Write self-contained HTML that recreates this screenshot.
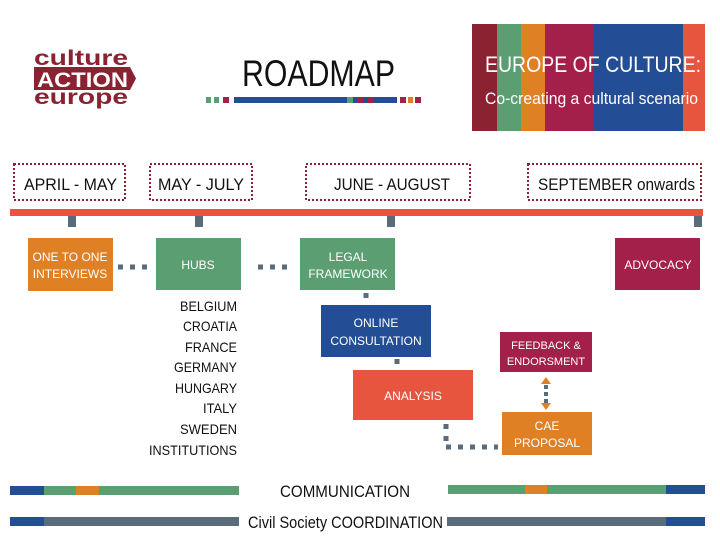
<!DOCTYPE html>
<html><head><meta charset="utf-8"><style>html,body{margin:0;padding:0;background:#fff}svg{display:block}text{font-family:"Liberation Sans",sans-serif}</style></head><body>
<svg width="720" height="540" viewBox="0 0 720 540" xmlns="http://www.w3.org/2000/svg">
<!-- logo -->
<g fill="#8b2232" font-weight="bold">
<text x="34" y="65" font-size="21" textLength="94" lengthAdjust="spacingAndGlyphs">culture</text>
<path d="M34 67 H130 L136 78.5 L130 90 H34 Z"/>
<text x="37" y="87" font-size="21" fill="#fff" textLength="91" lengthAdjust="spacingAndGlyphs">ACTION</text>
<text x="34" y="104" font-size="21" textLength="94" lengthAdjust="spacingAndGlyphs">europe</text>
</g>
<!-- roadmap -->
<text x="242" y="86" font-size="37" fill="#111" textLength="153" lengthAdjust="spacingAndGlyphs">ROADMAP</text>
<g>
<rect x="206" y="97" width="5" height="6" fill="#5a9e72"/><rect x="214" y="97" width="5" height="6" fill="#5a9e72"/><rect x="223" y="97" width="6" height="6" fill="#a3204a"/>
<rect x="234" y="97" width="163" height="6" fill="#234d94"/>
<rect x="347" y="97" width="6" height="6" fill="#5a9e72"/><rect x="357" y="97" width="6" height="6" fill="#a3204a"/><rect x="368" y="97" width="6" height="6" fill="#a3204a"/>
<rect x="400" y="97" width="6" height="6" fill="#a3204a"/><rect x="408" y="97" width="5" height="6" fill="#e08025"/><rect x="415" y="97" width="6" height="6" fill="#a3204a"/>
</g>
<!-- header banner -->
<rect x="472" y="24" width="25" height="107" fill="#8b2232"/>
<rect x="497" y="24" width="24" height="107" fill="#5a9e72"/>
<rect x="521" y="24" width="24" height="107" fill="#e08025"/>
<rect x="545" y="24" width="49" height="107" fill="#a3204a"/>
<rect x="594" y="24" width="89" height="107" fill="#234d94"/>
<rect x="683" y="24" width="22" height="107" fill="#e8553f"/>
<text x="485" y="72" font-size="22" fill="#fff" textLength="216" lengthAdjust="spacingAndGlyphs">EUROPE OF CULTURE:</text>
<text x="485" y="104" font-size="17" fill="#fff" textLength="213" lengthAdjust="spacingAndGlyphs">Co-creating a cultural scenario</text>
<!-- date boxes -->
<g fill="none" stroke="#8b2232" stroke-width="2" stroke-dasharray="2 2">
<rect x="14" y="164" width="111" height="36"/>
<rect x="150" y="164" width="102" height="36"/>
<rect x="306" y="164" width="164" height="36"/>
<rect x="528" y="164" width="173" height="36"/>
</g>
<g font-size="17" fill="#111">
<text x="24" y="190" textLength="93" lengthAdjust="spacingAndGlyphs">APRIL - MAY</text>
<text x="158" y="190" textLength="86" lengthAdjust="spacingAndGlyphs">MAY - JULY</text>
<text x="334" y="190" textLength="116" lengthAdjust="spacingAndGlyphs">JUNE - AUGUST</text>
<text x="538" y="190" textLength="157" lengthAdjust="spacingAndGlyphs">SEPTEMBER onwards</text>
</g>
<!-- timeline -->
<rect x="10" y="209" width="693" height="7" fill="#e8553f"/>
<g fill="#5a6b7a">
<rect x="68" y="216" width="8" height="11"/><rect x="195" y="216" width="8" height="11"/><rect x="387" y="216" width="8" height="11"/><rect x="694" y="216" width="8" height="11"/>
</g>
<!-- boxes -->
<rect x="28" y="238" width="85" height="53" fill="#e08025"/>
<rect x="156" y="238" width="85" height="52" fill="#5a9e72"/>
<rect x="300" y="238" width="95" height="52" fill="#5a9e72"/>
<rect x="615" y="238" width="85" height="52" fill="#a3204a"/>
<rect x="321" y="305" width="110" height="52" fill="#234d94"/>
<rect x="353" y="370" width="120" height="50" fill="#e8553f"/>
<rect x="500" y="332" width="92" height="40" fill="#a3204a"/>
<rect x="502" y="412" width="90" height="43" fill="#e08025"/>
<g fill="#fff" font-size="12" text-anchor="middle">
<text x="70" y="261">ONE TO ONE</text><text x="70" y="278">INTERVIEWS</text>
<text x="198" y="269">HUBS</text>
<text x="348" y="261">LEGAL</text><text x="348" y="278">FRAMEWORK</text>
<text x="658" y="269">ADVOCACY</text>
<text x="376" y="327">ONLINE</text><text x="376" y="345">CONSULTATION</text>
<text x="413" y="400">ANALYSIS</text>
<text x="546" y="349" font-size="11">FEEDBACK &amp;</text><text x="546" y="365" font-size="11">ENDORSMENT</text>
<text x="547" y="430">CAE</text><text x="547" y="447">PROPOSAL</text>
</g>
<!-- connectors -->
<g stroke="#5a6b7a" stroke-width="5" stroke-dasharray="5 7" fill="none">
<line x1="118" y1="267" x2="154" y2="267"/>
<line x1="258" y1="267" x2="294" y2="267"/>
<line x1="366" y1="293" x2="366" y2="302"/>
<line x1="397" y1="359" x2="397" y2="368"/>
<line x1="446" y1="424" x2="446" y2="447"/>
<line x1="446" y1="447" x2="498" y2="447"/>
<line x1="546" y1="385" x2="546" y2="405" stroke-width="4" stroke-dasharray="4 3"/>
</g>
<polygon points="541,384 551,384 546,377" fill="#e08025"/>
<polygon points="541,403 551,403 546,410" fill="#e08025"/>
<!-- countries -->
<g font-size="14" fill="#111" text-anchor="end">
<text x="237" y="311" textLength="57" lengthAdjust="spacingAndGlyphs">BELGIUM</text><text x="237" y="331" textLength="54" lengthAdjust="spacingAndGlyphs">CROATIA</text><text x="237" y="352" textLength="52" lengthAdjust="spacingAndGlyphs">FRANCE</text><text x="237" y="372" textLength="63" lengthAdjust="spacingAndGlyphs">GERMANY</text><text x="237" y="393" textLength="62" lengthAdjust="spacingAndGlyphs">HUNGARY</text><text x="237" y="413" textLength="34" lengthAdjust="spacingAndGlyphs">ITALY</text><text x="237" y="434" textLength="57" lengthAdjust="spacingAndGlyphs">SWEDEN</text><text x="237" y="455" textLength="88" lengthAdjust="spacingAndGlyphs">INSTITUTIONS</text>
</g>
<!-- bottom bars -->
<rect x="10" y="486" width="34" height="9" fill="#234d94"/><rect x="44" y="486" width="32" height="9" fill="#5a9e72"/><rect x="76" y="486" width="23" height="9" fill="#e08025"/><rect x="99" y="486" width="140" height="9" fill="#5a9e72"/>
<rect x="448" y="485" width="77" height="9" fill="#5a9e72"/><rect x="525" y="485" width="22" height="9" fill="#e08025"/><rect x="547" y="485" width="119" height="9" fill="#5a9e72"/><rect x="666" y="485" width="39" height="9" fill="#234d94"/>
<text x="280" y="497" font-size="17" fill="#111" textLength="130" lengthAdjust="spacingAndGlyphs">COMMUNICATION</text>
<rect x="10" y="517" width="34" height="9" fill="#234d94"/><rect x="44" y="517" width="195" height="9" fill="#5a6b7a"/>
<rect x="447" y="517" width="219" height="9" fill="#5a6b7a"/><rect x="666" y="517" width="39" height="9" fill="#234d94"/>
<text x="248" y="528" font-size="17" fill="#111" textLength="195" lengthAdjust="spacingAndGlyphs">Civil Society COORDINATION</text>
</svg>
</body></html>
